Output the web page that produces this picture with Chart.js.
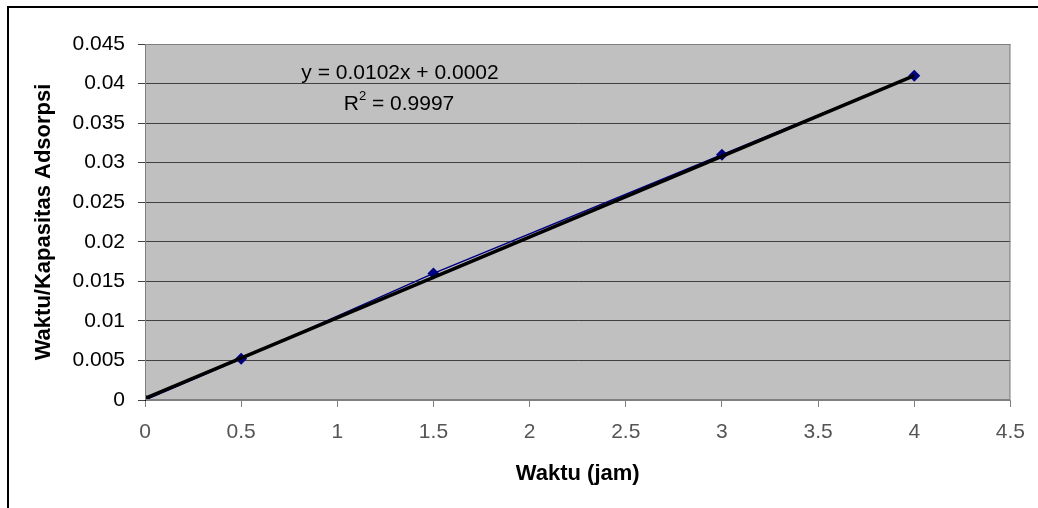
<!DOCTYPE html>
<html>
<head>
<meta charset="utf-8">
<script src="https://cdn.jsdelivr.net/npm/chart.js@4/dist/chart.umd.min.js"></script>
<style>
    html, body { margin: 0; padding: 0; background: #fff; }
    #wrap { width: 1038px; height: 508px; position: relative; }
</style>
</head>
<body>
<div id="wrap"><canvas id="myChart" width="1038" height="508"></canvas></div>
<script>
let waktu = [0, 0.5, 1.5, 3, 4];
let kapasitas = [0, 0.0052, 0.016, 0.031, 0.041];
let trendX = [0, 4];
let trendY = [0.0002, 0.041];
let xTickLabels = ['0', '0.5', '1', '1.5', '2', '2.5', '3', '3.5', '4', '4.5'];
let yTickLabels = ['0', '0.005', '0.01', '0.015', '0.02', '0.025', '0.03', '0.035', '0.04', '0.045'];
let persamaan = 'y = 0.0102x + 0.0002';
let rKuadrat = '0.9997';

let fontName = '"Liberation Sans", Arial, sans-serif';

// gray plot background, outer border, equation text
let bgPlugin = {
    id: 'bgPlugin',
    beforeDraw: function (chart) {
        let c = chart.ctx;
        let a = chart.chartArea;
        c.save();
        c.fillStyle = '#ffffff';
        c.fillRect(0, 0, chart.width, chart.height);
        c.fillStyle = '#c0c0c0';
        c.fillRect(a.left, a.top, a.right - a.left, a.bottom - a.top);
        c.strokeStyle = '#000';
        c.lineWidth = 2;
        c.beginPath();
        c.moveTo(8, chart.height);
        c.lineTo(8, 7);
        c.lineTo(chart.width, 7);
        c.stroke();
        c.restore();
    },
    afterDatasetsDraw: function (chart) {
        let c = chart.ctx;
        let a = chart.chartArea;
        c.save();
        c.strokeStyle = '#808080';
        c.lineWidth = 1;
        c.strokeRect(a.left + 0.5, a.top + 0.5, a.right - a.left - 1, a.bottom - a.top - 1);
        c.fillStyle = '#000';
        c.font = '21px ' + fontName;
        c.textAlign = 'center';
        c.textBaseline = 'middle';
        c.fillText(persamaan, 400, 73);
        let rx = 399;
        let ry = 104;
        let sisa = ' = ' + rKuadrat;
        let wR = c.measureText('R').width;
        c.font = '13px ' + fontName;
        let w2 = c.measureText('2').width;
        c.font = '21px ' + fontName;
        let wS = c.measureText(sisa).width;
        let x0 = rx - (wR + w2 + wS) / 2;
        c.textAlign = 'left';
        c.fillText('R', x0, ry);
        c.font = '13px ' + fontName;
        c.fillText('2', x0 + wR, ry - 8);
        c.font = '21px ' + fontName;
        c.fillText(sisa, x0 + wR + w2, ry);
        c.restore();
    }
};

var ctx = document.getElementById('myChart').getContext('2d');
var myChart = new Chart(ctx, {
    type: 'scatter',
    data: {
        datasets: [
            {
                label: 'Trend',
                data: trendX.map(function (x, i) { return { x: x, y: trendY[i] }; }),
                showLine: true,
                borderColor: '#000000',
                backgroundColor: '#000000',
                borderWidth: 3.5,
                pointRadius: 0,
                order: 0
            },
            {
                label: 'Data',
                data: waktu.map(function (x, i) { return { x: x, y: kapasitas[i] }; }),
                showLine: true,
                borderColor: '#000080',
                backgroundColor: '#000080',
                borderWidth: 1.5,
                pointStyle: 'rectRot',
                pointRadius: 6,
                pointBorderWidth: 0,
                order: 1
            }
        ]
    },
    plugins: [bgPlugin],
    options: {
        responsive: false,
        animation: false,
        layout: {
            padding: { left: 0, top: 44, right: 26, bottom: 0 }
        },
        plugins: {
            legend: { display: false },
            tooltip: { enabled: false }
        },
        scales: {
            x: {
                type: 'linear',
                min: 0,
                max: 4.5,
                afterFit: function (scale) { scale.height = 108; },
                ticks: {
                    stepSize: 0.5,
                    padding: 13,
                    color: '#555555',
                    font: { family: fontName, size: 21 },
                    maxRotation: 0,
                    callback: function (value, index) { return xTickLabels[index]; }
                },
                grid: {
                    drawOnChartArea: false,
                    tickLength: 7,
                    tickColor: '#808080',
                    color: '#808080'
                },
                border: { color: '#808080', width: 1 },
                title: {
                    display: true,
                    text: 'Waktu (jam)',
                    color: '#000',
                    font: { family: fontName, size: 22, weight: 'bold' },
                    padding: { top: 0, bottom: 21 }
                }
            },
            y: {
                min: 0,
                max: 0.045,
                afterFit: function (scale) { scale.width = 145; },
                ticks: {
                    stepSize: 0.005,
                    padding: 13,
                    color: '#000',
                    font: { family: fontName, size: 21 },
                    callback: function (value, index) { return yTickLabels[index]; }
                },
                grid: {
                    color: '#404040',
                    lineWidth: 1,
                    tickLength: 7,
                    tickColor: '#404040'
                },
                border: { color: '#000', width: 1 },
                title: {
                    display: true,
                    text: 'Waktu/Kapasitas Adsorpsi',
                    color: '#000',
                    font: { family: fontName, size: 22, weight: 'bold' },
                    padding: { top: 31, bottom: 0 }
                }
            }
        }
    }
});
</script>
</body>
</html>
